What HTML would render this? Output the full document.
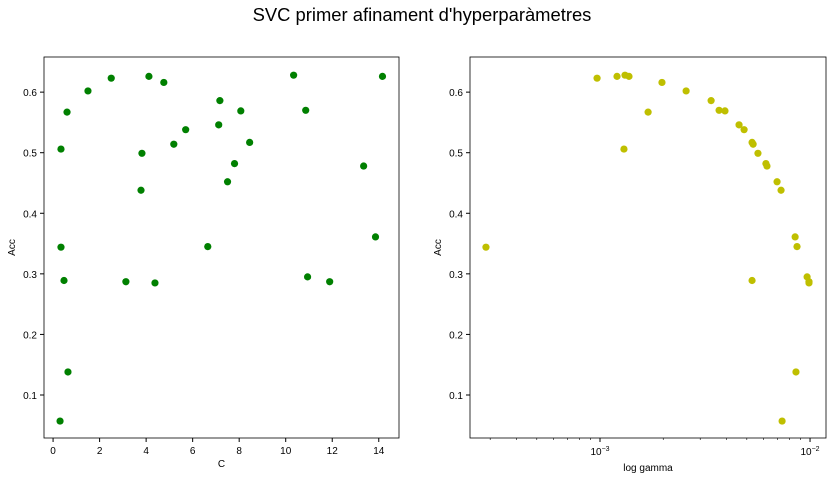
<!DOCTYPE html>
<html><head><meta charset="utf-8"><style>
body{margin:0;background:#fff;}
svg{display:block;font-family:"Liberation Sans","DejaVu Sans",sans-serif;}
</style></head><body>
<svg id="chart" width="832" height="480" viewBox="0 0 832 480">
<text x="422" y="21" text-anchor="middle" font-size="18.4" fill="#000">SVC primer afinament d'hyperparàmetres</text>
</svg>
<script>
const leftC=[0.3,0.34,0.34,0.47,0.6,0.64,1.5,2.5,3.13,3.78,3.82,4.12,4.38,4.76,5.19,5.7,6.65,7.12,7.17,7.5,7.8,8.07,8.45,10.34,10.86,10.94,11.89,13.35,13.86,14.16];
const leftAcc=[0.057,0.506,0.344,0.289,0.567,0.138,0.602,0.623,0.287,0.438,0.499,0.626,0.285,0.616,0.514,0.538,0.345,0.546,0.586,0.452,0.482,0.569,0.517,0.628,0.570,0.295,0.287,0.478,0.361,0.626];
const rightLogGamma=[-3.543,-3.014,-2.919,-2.881,-2.862,-2.886,-2.771,-2.705,-2.590,-2.471,-2.433,-2.405,-2.338,-2.314,-2.276,-2.271,-2.276,-2.248,-2.210,-2.205,-2.157,-2.138,-2.133,-2.071,-2.062,-2.067,-2.014,-2.005,-2.005];
const rightAcc=[0.344,0.623,0.626,0.628,0.626,0.506,0.567,0.616,0.602,0.586,0.570,0.569,0.546,0.538,0.517,0.514,0.289,0.499,0.482,0.478,0.452,0.438,0.057,0.361,0.345,0.138,0.295,0.287,0.285];
const cTicks=[0,2,4,6,8,10,12,14];
const accTicks=[0.1,0.2,0.3,0.4,0.5,0.6];

const NS="http://www.w3.org/2000/svg";
const svg=document.getElementById('chart');
function mk(tag,attrs,parent){const e=document.createElementNS(NS,tag);for(const k in attrs)e.setAttribute(k,attrs[k]);(parent||svg).appendChild(e);return e;}
const topY=57,bot=438,yMin=0.029,yMax=0.658;
const Y=v=>bot-(v-yMin)/(yMax-yMin)*(bot-topY);
const L0=44,L1=399,cMin=-0.39,cMax=14.87;
const XL=v=>L0+(v-cMin)/(cMax-cMin)*(L1-L0);
const R0=470,R1=826,gMin=-3.619,gMax=-1.924;
const XR=v=>R0+(v-gMin)/(gMax-gMin)*(R1-R0);

function yAxis(x0,name){
  accTicks.forEach(t=>{
    const l=mk('line',{x1:x0-4,x2:x0,y1:Y(t),y2:Y(t),stroke:'#000','stroke-width':1});
    
    
    const tx=mk('text',{x:x0-7,y:Y(t)+4,'text-anchor':'end','font-size':10});
    tx.textContent=t.toFixed(1);
    
    
  });
  const yl=mk('text',{x:x0-29,y:(topY+bot)/2,'text-anchor':'middle','font-size':10,transform:`rotate(-90 ${x0-29} ${(topY+bot)/2})`});
  yl.textContent='Acc';
  
  
}
yAxis(L0,'left');
cTicks.forEach(t=>{
  const l=mk('line',{x1:XL(t),x2:XL(t),y1:bot,y2:bot+4,stroke:'#000'});
  
  
  const tx=mk('text',{x:XL(t),y:bot+16,'text-anchor':'middle','font-size':10});
  tx.textContent=t;
  
  
});
const xl=mk('text',{x:(L0+L1)/2,y:bot+29,'text-anchor':'middle','font-size':10});
xl.textContent='C';


leftC.forEach((c,i)=>{
  const p=mk('circle',{cx:XL(c),cy:Y(leftAcc[i]),r:3.6,fill:'#008000'});
  
  
});
const f1=mk('rect',{x:L0,y:topY,width:L1-L0,height:bot-topY,fill:'none',stroke:'#000','stroke-width':0.8});


yAxis(R0,'right');
for(let d=-4;d<=-2;d++){for(let m=1;m<10;m++){
  const v=d+Math.log10(m); if(v<gMin||v>gMax)continue;
  const l=mk('line',{x1:XR(v),x2:XR(v),y1:bot,y2:bot+(m==1?4:2),stroke:'#000','stroke-width':m==1?1:0.6});
  
  
  if(m==1){
    const tx=mk('text',{x:XR(v),y:bot+17,'text-anchor':'middle','font-size':10});
    tx.innerHTML='10<tspan dy="-4" font-size="7">'+(d==-3?'−3':'−2')+'</tspan>';
    
    
  }
}}
const xr=mk('text',{x:(R0+R1)/2,y:bot+33,'text-anchor':'middle','font-size':10});
xr.textContent='log gamma';


rightLogGamma.forEach((g,i)=>{
  const p=mk('circle',{cx:XR(g),cy:Y(rightAcc[i]),r:3.6,fill:'#bfbf00'});
  
  
});
const f2=mk('rect',{x:R0,y:topY,width:R1-R0,height:bot-topY,fill:'none',stroke:'#000','stroke-width':0.8});


</script>
</body></html>
